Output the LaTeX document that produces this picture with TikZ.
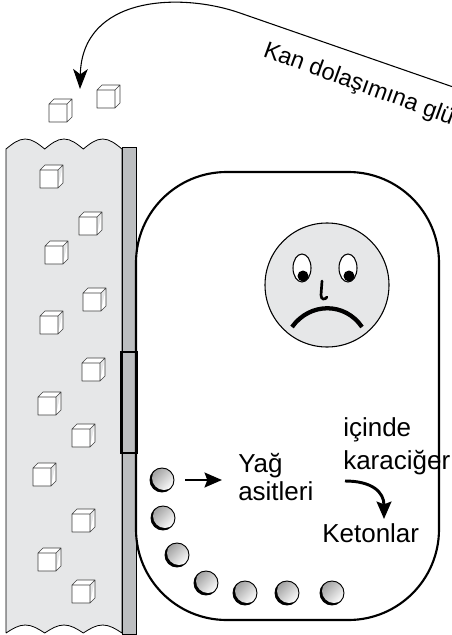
\documentclass[tikz,border=0pt]{standalone}
\usepackage{fontspec}
\setmainfont{Liberation Sans}
\usetikzlibrary{arrows.meta}
\definecolor{plasma}{HTML}{E6E7E8}
\definecolor{wallgray}{HTML}{BCBEC0}
\tikzset{
  lbl/.style={font=\fontsize{19.5}{20.5}\selectfont, inner sep=0pt, align=left},
  fat/.style={line width=2.2pt, -{Stealth[length=13pt,width=11pt,inset=2pt]}},
  fattyacid/.style={circle, draw, line width=0.7pt, minimum size=18pt, inner sep=0pt,
    path picture={
      \fill[black] (path picture bounding box.center) circle[radius=12];
      \shade[top color=gray!75, bottom color=white, shading angle=45]
        ([shift={(2,-2)}]path picture bounding box.center) circle[radius=12];
    }},
  glucose/.pic={
    \draw[fill=white, draw=black!75, line width=0.5pt, line join=round]
      (0,0) rectangle (18,-18)
      (0,-18) -- (5,-23) -- (23,-23) -- (18,-18)
      (18,0) -- (23,-5) -- (23,-23);
  }
}
\begin{document}
\begin{tikzpicture}[x=0.75pt, y=-0.75pt]
\useasboundingbox (0,0) rectangle (452,635);
\draw[fill=plasma, line width=0.6pt] (6,633) -- (6,149) sin (25.3,139) cos (44.7,149) sin (64,139) cos (83.3,149) sin (102.7,139) cos (122,149)
  -- (122,633) sin (102.7,625) cos (83.3,633) sin (64,625) cos (44.7,633) sin (25.3,625) cos (6,633);
\draw[fill=wallgray, line width=0.6pt] (122,147) rectangle (136,634);
\draw[fill=wallgray, line width=1.8pt] (121.5,352) rectangle (136.5,453);
\draw[line width=1.6pt, rounded corners=68pt] (136,172) rectangle (439,620);
\foreach \x/\y in {49/122, 97/108, 40/188, 79/235, 45/264, 83/311, 40/334, 82/381,
    38/415, 72/447, 33/486, 72/532, 38/571, 72/603}
  \pic at (\x,\y) {glucose};
\draw[fill=plasma, line width=0.8pt] (327,285) circle[radius=62];
\draw[fill=white, line width=0.8pt] (302,268) ellipse[x radius=9, y radius=14];
\draw[fill=white, line width=0.8pt] (348,268) ellipse[x radius=9, y radius=14];
\fill (303,276) circle[radius=5.5];
\fill (349,276) circle[radius=5.5];
\draw[line width=2pt, line cap=round] (322,281) -- (321,295) .. controls (321,300) and (325,300) .. (327,297);
\draw[line width=3.2pt] (292,327) .. controls (310,302) and (345,302) .. (362,327);
\foreach \x/\y [count=\i] in {162/480, 163/518, 177/555, 206/583, 245/593, 287/593, 332/593}
  \node[fattyacid] (fa\i) at (\x,\y) {};
\node[lbl, anchor=west] (yag) at (238,477) {Yağ\\asitleri};
\node[lbl, font=\fontsize{19.5}{24.5}\selectfont, anchor=west] (liver) at (343,446) {içinde\\karaciğer};
\node[lbl, anchor=base west] (keton) at (322,542) {Ketonlar};
\node[lbl, font=\fontsize{17.6}{18}\selectfont, rotate=-20, anchor=base west] (kan) at (262,56) {Kan dolaşımına glükoz};
\draw[fat, shorten <=8pt, shorten >=12pt] (fa1) -- (fa1 -| yag.west);
\coordinate (kstart) at (345,481);
\coordinate (kend) at (384,519);
\draw[fat] (kstart) .. controls (372,481) and (384,492) .. (kend);
\coordinate (offpage) at (456,88);
\coordinate (bloodin) at (80,89);
\draw[line width=0.8pt, -{Stealth[length=15pt,width=11pt,inset=4pt]}] (offpage) -- (240,13) .. controls (180,-8) and (82,-4) .. (bloodin);
\end{tikzpicture}
\end{document}
